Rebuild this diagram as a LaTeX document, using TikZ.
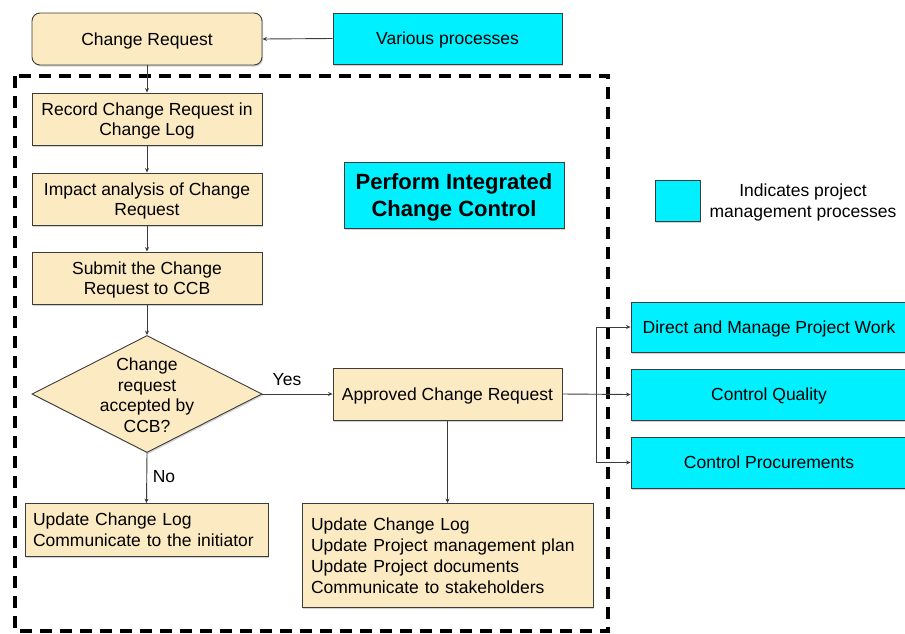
\documentclass[tikz,border=0pt]{standalone}
\usepackage{fontspec}
\setmainfont{Liberation Sans}
\usetikzlibrary{shapes.geometric,arrows.meta,shadows}
\definecolor{beige}{RGB}{252,235,194}
\definecolor{cyanbox}{RGB}{0,240,255}
\definecolor{edgec}{RGB}{60,60,60}
\begin{document}
\begin{tikzpicture}[x=1pt,y=-1pt,
  base/.style={draw=edgec, line width=0.9pt, inner sep=0pt, align=center,
    font=\fontsize{17.5}{20.5}\selectfont},
  shad/.style={drop shadow={shadow xshift=1.2pt, shadow yshift=-1.5pt, opacity=0.35}},
  box/.style={base, fill=beige, shad, text depth=0pt},
  ubox/.style={base, fill=beige, shad, align=left, font=\fontsize{17.5}{21}\selectfont},
  proc/.style={base, fill=cyanbox, shad, text depth=0pt},
  dia/.style={base, shape=diamond, fill=beige, shad},
  txt/.style={inner sep=0pt, align=center, text depth=0pt, font=\fontsize{17.5}{20.5}\selectfont},
  lbl/.style={inner sep=0pt, font=\fontsize{17.5}{20}\selectfont},
  arr/.style={draw=edgec, line width=0.9pt, -{Stealth[length=4.5pt,width=4pt]}},
  frame/.style={draw=black, line width=3.2pt, dash pattern=on 12pt off 8pt}
]
\useasboundingbox (0,0) rectangle (905,633);
\fill[white] (0,0) rectangle (905,633);

\draw[frame] (15,76) rectangle (608,631);

\node[box, rounded corners=8pt, minimum width=230, minimum height=52] (cr) at (147,39) {Change Request};
\node[proc, minimum width=229, minimum height=51] (vp) at (447.5,38.5) {Various processes};

\node[box, minimum width=230, minimum height=52] (rec) at (147,119) {Record Change Request in\\Change Log};
\node[box, minimum width=230, minimum height=52] (imp) at (147,199) {Impact analysis of Change\\Request};
\node[box, minimum width=230, minimum height=52] (sub) at (147,278) {Submit the Change\\Request to CCB};

\node[dia, minimum width=230, minimum height=117] (dec) at (147,394) {};
\node[txt] (dect) at (147,395) {Change\\request\\accepted by\\CCB?};

\node[box, minimum width=229, minimum height=52] (app) at (447.5,394) {Approved Change Request};

\node[ubox, inner xsep=8pt, text width=227pt, minimum height=53] (updl) at (146.5,530)
  {Update Change Log\\Communicate to the initiator};
\node[ubox, inner xsep=9pt, text width=273pt, minimum height=104] (updr) at (447.5,555.5)
  {Update Change Log\\Update Project management plan\\Update Project documents\\Communicate to stakeholders};

\node[proc, minimum width=220, minimum height=66, font=\fontsize{22}{27}\bfseries] (pic) at (454,195)
  {Perform Integrated\\Change Control};

\node[proc, minimum width=45, minimum height=41] (leg) at (677.5,200.5) {};
\node[txt, font=\fontsize{17.5}{21}\selectfont] (legt) at (803,201) {Indicates project\\management processes};

\node[proc, minimum width=276, minimum height=50] (dm) at (769,327) {Direct and Manage Project Work};
\node[proc, minimum width=276, minimum height=51] (cq) at (769,394.5) {Control Quality};
\node[proc, minimum width=276, minimum height=51] (cp) at (769,462.5) {Control Procurements};

\node[lbl] (yes) at (287,380) {Yes};
\node[lbl] (no) at (164,477) {No};

\draw[arr] (vp.west) -- (cr.east);
\draw[arr] (cr.south) -- (rec.north);
\draw[arr] (rec.south) -- (imp.north);
\draw[arr] (imp.south) -- (sub.north);
\draw[arr] (sub.south) -- (dec.north);
\draw[arr] (dec.east) -- (app.west);
\draw[arr] (dec.south) -- (updl.north);
\draw[arr] (app.south) -- (updr.north);
\draw[arr] (app.east) -- (cq.west);
\coordinate (j) at (596,394);
\draw[arr] (j) |- (dm.west);
\draw[arr] (j) |- (cp.west);
\end{tikzpicture}
\end{document}
